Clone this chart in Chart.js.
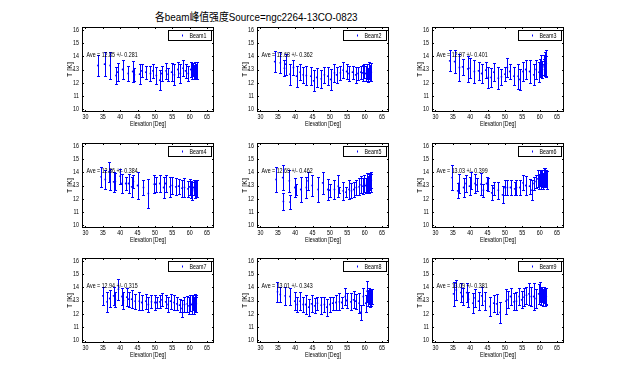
<!DOCTYPE html>
<html>
<head>
<meta charset="utf-8">
<script src="https://cdn.jsdelivr.net/npm/chart.js@4.4.1/dist/chart.umd.min.js"></script>
<style>
  html, body { margin: 0; padding: 0; background: #fff; }
  #fig { position: relative; width: 624px; height: 388px; overflow: hidden; background: #fff; }
  #fig canvas { position: absolute; }
  #title {
    position: absolute; left: 155px; top: 11px;
    font: 11px 'Liberation Sans', 'Noto Sans CJK SC', sans-serif;
    line-height: 12px; white-space: nowrap; color: #000;
    transform-origin: 0 0;
  }
</style>
</head>
<body>
<div id="fig">
  <div id="title">各beam峰值强度Source=ngc2264-13CO-0823</div>
</div>
<script>
// 각 beam 데이터 (elevation, T, 오차)
const elev1 = [33.6, 35.5, 37.1, 38.8, 39.3, 40.7, 42.3, 43.6, 44.1, 45.6, 46.2, 47.4, 48.7, 49.4, 50.4, 51.4, 52.0, 53.2, 53.8, 54.8, 55.6, 56.6, 57.3, 58.1, 58.8, 59.6, 60.3, 60.7, 61.0, 61.3, 61.5, 61.8, 62.0];
const t1 = [13.3, 13.4, 13.3, 12.55, 12.8, 13.0, 12.7, 12.85, 12.6, 12.65, 12.9, 12.8, 12.7, 12.9, 12.55, 12.2, 12.7, 12.9, 12.65, 12.8, 12.6, 13.0, 12.7, 13.1, 12.9, 12.7, 13.0, 12.85, 13.0, 12.8, 13.0, 12.9, 12.95];
const err1 = [0.8, 0.9, 1.0, 0.65, 0.7, 0.7, 0.6, 0.8, 0.5, 0.75, 0.5, 0.5, 0.6, 0.55, 0.65, 0.75, 0.55, 0.6, 0.5, 0.7, 0.8, 0.6, 0.7, 0.6, 0.55, 0.6, 0.55, 0.6, 0.5, 0.55, 0.6, 0.55, 0.65];

const elev2 = [34.1, 35.7, 36.9, 37.3, 38.5, 39.5, 40.4, 41.4, 42.3, 43.2, 44.5, 45.3, 46.2, 47.5, 48.4, 49.4, 50.2, 51.3, 51.9, 53.0, 53.8, 54.8, 55.5, 56.5, 57.4, 58.1, 58.9, 59.4, 59.9, 60.3, 60.7, 61.0, 61.3, 61.6, 61.9];
const t2 = [13.6, 13.5, 13.1, 13.4, 12.65, 13.15, 12.5, 12.8, 12.6, 12.55, 12.5, 12.15, 12.4, 12.3, 12.6, 12.5, 12.25, 12.75, 12.6, 12.75, 12.95, 12.85, 12.7, 12.8, 12.6, 12.7, 12.8, 12.75, 12.9, 12.7, 12.85, 12.6, 12.9, 12.75, 12.8];
const err2 = [0.8, 0.8, 0.6, 0.8, 0.8, 0.55, 0.8, 0.6, 0.6, 0.75, 0.7, 0.8, 0.7, 0.7, 0.6, 0.7, 0.8, 0.7, 0.6, 0.55, 0.6, 0.6, 0.6, 0.5, 0.6, 0.5, 0.5, 0.6, 0.55, 0.6, 0.6, 0.55, 0.65, 0.6, 0.7];

const elev3 = [34.1, 35.5, 36.9, 37.8, 39.3, 40.0, 41.2, 42.4, 43.3, 44.5, 45.2, 46.0, 46.8, 48.1, 49.0, 50.0, 50.7, 51.4, 52.6, 53.8, 54.3, 55.2, 56.0, 57.1, 58.3, 59.0, 59.8, 60.2, 60.5, 60.8, 61.1, 61.3, 61.5, 61.7, 61.9];
const t3 = [13.65, 13.6, 13.15, 13.2, 13.05, 13.1, 12.85, 12.9, 12.7, 12.95, 12.4, 12.4, 12.8, 12.35, 12.45, 12.65, 13.15, 12.85, 12.5, 12.5, 12.25, 12.85, 13.0, 12.85, 12.6, 13.0, 12.8, 13.1, 13.3, 13.0, 13.35, 13.2, 13.4, 13.25, 13.45];
const err3 = [0.8, 0.9, 1.05, 0.6, 1.0, 0.75, 0.85, 0.7, 0.75, 0.6, 0.8, 0.7, 0.7, 0.85, 0.6, 0.55, 0.7, 0.6, 0.7, 0.95, 0.8, 0.75, 0.7, 0.85, 0.8, 0.7, 0.75, 0.7, 0.8, 0.65, 0.75, 0.6, 0.9, 0.75, 1.0];

const elev4 = [34.5, 35.7, 36.8, 37.1, 38.1, 38.6, 40.0, 40.5, 41.6, 42.4, 43.3, 43.8, 45.0, 46.7, 48.1, 49.8, 50.2, 51.4, 52.5, 53.1, 54.3, 55.0, 56.0, 56.8, 57.8, 58.5, 59.5, 60.0, 60.4, 60.8, 61.1, 61.4, 61.7, 62.0];
const t4 = [13.65, 13.45, 14.05, 13.45, 13.28, 13.3, 13.7, 13.15, 13.15, 13.15, 12.9, 13.3, 13.0, 12.85, 12.4, 13.1, 13.1, 13.15, 12.85, 13.15, 12.9, 13.0, 12.9, 12.95, 12.8, 12.85, 12.75, 12.9, 12.7, 12.6, 12.85, 12.7, 12.8, 12.75];
const err4 = [0.75, 0.7, 0.75, 0.8, 0.76, 0.65, 0.57, 0.75, 0.5, 0.75, 0.75, 0.5, 1.0, 0.57, 1.1, 0.7, 0.57, 0.63, 0.8, 0.63, 0.75, 0.63, 0.63, 0.57, 0.63, 0.7, 0.6, 0.6, 0.65, 0.7, 0.6, 0.65, 0.6, 0.65];

const elev5 = [34.5, 36.4, 36.6, 38.3, 38.5, 39.9, 40.2, 41.6, 43.2, 43.7, 44.9, 46.6, 47.9, 49.4, 49.9, 51.3, 52.4, 52.7, 53.8, 54.6, 55.5, 56.2, 56.9, 57.6, 58.4, 59.0, 59.5, 59.9, 60.3, 60.6, 60.9, 61.1, 61.3, 61.5, 61.7, 61.9];
const t5 = [13.45, 13.6, 11.8, 13.35, 11.75, 12.85, 12.7, 12.7, 12.85, 13.35, 13.0, 12.7, 13.2, 12.7, 12.65, 12.7, 12.95, 12.65, 12.6, 12.5, 12.7, 12.6, 12.7, 12.85, 12.9, 13.05, 12.95, 13.15, 13.0, 13.25, 13.1, 13.3, 13.15, 13.35, 13.2, 13.4];
const err5 = [0.95, 0.95, 0.63, 0.82, 0.5, 0.7, 0.45, 0.95, 0.82, 0.7, 0.82, 0.95, 0.82, 0.82, 0.5, 0.7, 0.82, 0.25, 0.7, 0.38, 0.7, 0.57, 0.57, 0.57, 0.63, 0.63, 0.6, 0.65, 0.6, 0.7, 0.6, 0.65, 0.7, 0.6, 0.7, 0.6];

const elev6 = [34.8, 36.4, 36.7, 38.1, 38.8, 39.8, 40.2, 41.4, 41.9, 43.1, 43.8, 44.7, 45.2, 46.2, 46.8, 48.1, 49.3, 50.0, 50.7, 51.6, 52.8, 53.3, 54.3, 55.2, 56.0, 57.1, 57.8, 58.4, 59.0, 59.5, 59.8, 60.1, 60.4, 60.7, 61.0, 61.2, 61.4, 61.6, 61.8, 62.0];
const t6 = [13.6, 12.6, 13.15, 12.85, 13.15, 12.95, 13.4, 13.15, 13.05, 13.1, 12.65, 13.15, 13.05, 12.45, 12.8, 12.65, 12.3, 12.85, 12.85, 12.85, 12.75, 12.85, 12.85, 13.2, 13.0, 12.95, 12.65, 13.15, 13.3, 13.5, 13.3, 13.6, 13.4, 13.55, 13.35, 13.65, 13.45, 13.6, 13.5, 13.4];
const err6 = [0.95, 0.57, 0.75, 0.7, 0.63, 0.7, 0.63, 0.75, 0.5, 0.82, 0.5, 0.5, 0.5, 0.57, 0.5, 0.63, 0.63, 0.57, 0.57, 0.57, 0.5, 0.57, 0.57, 0.57, 0.7, 0.57, 0.75, 0.5, 0.5, 0.65, 0.55, 0.6, 0.7, 0.65, 0.6, 0.7, 0.6, 0.7, 0.65, 0.7];

const elev7 = [35.0, 36.2, 37.0, 38.1, 38.6, 39.5, 40.5, 40.9, 41.9, 42.4, 43.3, 44.3, 45.5, 46.2, 47.4, 48.1, 49.0, 50.0, 50.5, 51.4, 52.0, 53.1, 53.8, 54.5, 55.5, 56.3, 57.1, 57.8, 58.5, 59.3, 59.8, 60.2, 60.6, 60.9, 61.2, 61.4, 61.7, 61.9];
const t7 = [13.35, 12.9, 13.15, 13.35, 13.1, 13.85, 13.3, 13.0, 13.25, 13.1, 13.1, 12.95, 12.95, 12.85, 12.95, 12.7, 12.9, 12.85, 12.85, 12.9, 13.05, 12.9, 12.7, 12.95, 12.85, 12.75, 12.65, 12.4, 12.7, 12.75, 12.6, 12.8, 12.7, 12.85, 12.65, 12.8, 12.7, 12.75];
const err7 = [0.7, 0.75, 0.63, 0.7, 0.57, 0.8, 0.63, 0.63, 0.7, 0.57, 0.7, 0.57, 0.7, 0.57, 0.57, 0.57, 0.5, 0.57, 0.45, 0.5, 0.5, 0.5, 0.57, 0.57, 0.57, 0.5, 0.5, 0.63, 0.57, 0.6, 0.65, 0.6, 0.7, 0.6, 0.65, 0.7, 0.6, 0.65];

const elev8 = [34.9, 35.7, 37.1, 38.5, 39.9, 40.6, 41.4, 42.3, 43.0, 43.9, 44.7, 45.6, 46.4, 47.5, 48.4, 49.1, 50.0, 50.8, 51.7, 52.7, 53.4, 54.4, 54.8, 56.0, 56.8, 57.4, 58.4, 58.8, 59.6, 60.3, 60.7, 61.0, 61.3, 61.5, 61.7, 61.9, 62.1];
const t8 = [13.65, 13.45, 13.35, 13.3, 12.95, 12.7, 12.95, 12.7, 12.7, 12.5, 12.75, 12.6, 12.8, 12.65, 12.7, 12.5, 12.7, 12.8, 12.85, 12.9, 12.85, 13.3, 13.0, 12.9, 13.05, 12.95, 12.8, 12.1, 13.3, 12.8, 13.7, 13.2, 13.35, 13.15, 13.3, 13.2, 13.3];
const err8 = [0.75, 0.57, 0.7, 0.63, 0.7, 0.57, 0.7, 0.57, 0.7, 0.63, 0.63, 0.57, 0.5, 0.63, 0.57, 0.63, 0.57, 0.5, 0.57, 0.63, 0.45, 0.63, 0.57, 0.63, 0.63, 0.57, 0.75, 0.57, 0.63, 0.63, 0.8, 0.6, 0.6, 0.65, 0.6, 0.65, 0.55];

const elev9 = [35.2, 36.0, 37.3, 37.8, 39.0, 39.5, 40.8, 41.4, 42.4, 43.3, 44.3, 45.7, 46.8, 47.6, 48.6, 50.3, 50.9, 51.6, 52.6, 53.3, 54.1, 54.8, 55.5, 56.2, 56.9, 57.6, 58.3, 59.0, 59.7, 60.2, 60.5, 60.8, 61.0, 61.3, 61.5, 61.7, 61.9];
const t9 = [13.5, 13.8, 13.6, 13.3, 13.6, 13.1, 12.8, 13.2, 12.95, 13.35, 12.95, 12.55, 12.8, 12.75, 12.1, 12.95, 13.05, 13.3, 12.9, 12.95, 13.3, 13.05, 13.25, 13.4, 13.5, 13.3, 13.3, 13.15, 13.5, 13.65, 13.3, 13.45, 13.2, 13.4, 13.25, 13.35, 13.3];
const err9 = [0.9, 0.75, 0.75, 0.63, 0.7, 0.57, 0.75, 0.7, 0.7, 0.7, 0.7, 0.75, 0.63, 0.75, 0.82, 0.95, 0.63, 0.63, 0.63, 0.7, 0.63, 0.63, 0.7, 0.63, 0.82, 0.75, 1.0, 0.75, 0.75, 0.75, 0.65, 0.6, 0.65, 0.6, 0.7, 0.6, 0.65];

const beamNames = ['Beam1', 'Beam2', 'Beam3', 'Beam4', 'Beam5', 'Beam6', 'Beam7', 'Beam8', 'Beam9'];
const aveLabels = [
    'Ave = 12.85 +/- 0.281', 'Ave = 12.68 +/- 0.362', 'Ave = 12.97 +/- 0.401',
    'Ave = 12.86 +/- 0.384', 'Ave = 12.69 +/- 0.462', 'Ave = 13.03 +/- 0.399',
    'Ave = 12.94 +/- 0.315', 'Ave = 13.01 +/- 0.343', 'Ave = 13.09 +/- 0.381'
];
const xTicks = [30, 35, 40, 45, 50, 55, 60, 65];
const yTicks = [10, 11, 12, 13, 14, 15, 16];

const elevations = [elev1, elev2, elev3, elev4, elev5, elev6, elev7, elev8, elev9];
const temps = [t1, t2, t3, t4, t5, t6, t7, t8, t9];
const errors = [err1, err2, err3, err4, err5, err6, err7, err8, err9];

// 레이아웃 (subplot 축 영역 위치)
const colLeft = [82, 257, 432];
const rowTop = [27, 143, 258];
const AX_W = 132, AX_H = 85;
const PAD_L = 18, PAD_T = 8, PAD_R = 4, PAD_B = 20;

const BLUE = '#0000ff';
const FAMILY = "'Liberation Sans', Arial, sans-serif";
const TEXT_FONT = '7px ' + FAMILY;
const SQUEEZE = 0.76; // 원본 글자가 가로로 눌려 있음

// 오차 막대
const errorBars = {
    id: 'errorBars',
    afterDatasetsDraw(chart) {
        const { ctx, scales: { x, y } } = chart;
        ctx.save();
        ctx.strokeStyle = BLUE;
        ctx.lineWidth = 1;
        chart.data.datasets.forEach(ds => {
            ds.data.forEach((p, i) => {
                const e = ds.errors[i];
                const px = Math.round(x.getPixelForValue(p.x)) + 0.5;
                const y1 = Math.round(y.getPixelForValue(p.y + e)) + 0.5;
                const y2 = Math.round(y.getPixelForValue(p.y - e)) + 0.5;
                ctx.beginPath();
                ctx.moveTo(px, y1); ctx.lineTo(px, y2);
                ctx.moveTo(px - 1.5, y1); ctx.lineTo(px + 1.5, y1);
                ctx.moveTo(px - 1.5, y2); ctx.lineTo(px + 1.5, y2);
                ctx.stroke();
            });
        });
        ctx.restore();
    }
};

// 축 테두리 + 안쪽 눈금
const axesBox = {
    id: 'axesBox',
    afterDraw(chart) {
        const { ctx, chartArea: a, scales: { x, y } } = chart;
        ctx.save();
        ctx.strokeStyle = '#000';
        ctx.lineWidth = 1;
        ctx.strokeRect(a.left + 0.5, a.top + 0.5, a.width - 1, a.height - 1);
        ctx.beginPath();
        x.ticks.forEach(t => {
            const px = Math.round(x.getPixelForValue(t.value)) + 0.5;
            ctx.moveTo(px, a.bottom); ctx.lineTo(px, a.bottom - 2);
            ctx.moveTo(px, a.top); ctx.lineTo(px, a.top + 2);
        });
        y.ticks.forEach(t => {
            const py = Math.round(y.getPixelForValue(t.value)) + 0.5;
            ctx.moveTo(a.left, py); ctx.lineTo(a.left + 2, py);
            ctx.moveTo(a.right, py); ctx.lineTo(a.right - 2, py);
        });
        ctx.stroke();
        ctx.restore();
    }
};

// 범례 상자
const beamLegend = {
    id: 'beamLegend',
    afterDraw(chart) {
        const { ctx, chartArea: a } = chart;
        const ds = chart.data.datasets[0];
        const w = 43, h = 10;
        const bx = Math.round(a.right - 3 - w) + 0.5;
        const by = Math.round(a.top + 3) + 0.5;
        ctx.save();
        ctx.fillStyle = '#fff';
        ctx.fillRect(bx, by, w, h);
        ctx.strokeStyle = '#000';
        ctx.lineWidth = 1;
        ctx.strokeRect(bx, by, w, h);
        ctx.fillStyle = BLUE;
        ctx.fillRect(bx + 13.5, by + 4, 1, 2);
        ctx.fillStyle = '#000';
        ctx.font = TEXT_FONT;
        ctx.textBaseline = 'middle';
        ctx.fillText(ds.label, bx + 21, by + h / 2 + 0.5);
        ctx.restore();
    }
};

// 평균값 텍스트
const aveNote = {
    id: 'aveNote',
    afterDraw(chart, args, opts) {
        const { ctx, scales: { x, y } } = chart;
        ctx.save();
        ctx.fillStyle = '#000';
        ctx.font = TEXT_FONT;
        ctx.textBaseline = 'middle';
        ctx.fillText(opts.text, x.getPixelForValue(opts.x), y.getPixelForValue(opts.y));
        ctx.restore();
    }
};

const tickFont = { family: FAMILY, size: 7 };
const fig = document.getElementById('fig');

beamNames.forEach((name, i) => {
    const col = i % 3, row = Math.floor(i / 3);
    const canvas = document.createElement('canvas');
    canvas.width = AX_W + PAD_L + PAD_R;
    canvas.height = AX_H + PAD_T + PAD_B;
    canvas.style.left = (colLeft[col] - PAD_L) + 'px';
    canvas.style.top = (rowTop[row] - PAD_T) + 'px';
    fig.appendChild(canvas);

    // 가로 글자만 좁게 그림 (회전된 y축 제목은 그대로)
    const ctx = canvas.getContext('2d');
    const rawFill = ctx.fillText.bind(ctx);
    ctx.fillText = (s, x, y, mw) => {
        if (Math.abs(ctx.getTransform().b) > 0.01) {
            return mw === undefined ? rawFill(s, x, y) : rawFill(s, x, y, mw);
        }
        const w = ctx.measureText(s).width * SQUEEZE;
        rawFill(s, x, y, mw === undefined ? w : Math.min(mw, w));
    };

    new Chart(ctx, {
        type: 'scatter',
        data: {
            datasets: [{
                label: name,
                data: elevations[i].map((v, k) => ({ x: v, y: temps[i][k] })),
                errors: errors[i],
                pointRadius: 0.9,
                pointBorderWidth: 0,
                pointBackgroundColor: BLUE,
                borderColor: BLUE,
                showLine: false
            }]
        },
        options: {
            responsive: false,
            animation: false,
            events: [],
            layout: { padding: { left: 0, top: PAD_T, right: PAD_R, bottom: 0 } },
            plugins: {
                legend: { display: false },
                tooltip: { enabled: false },
                aveNote: { text: aveLabels[i], x: 30.3, y: 14.1 }
            },
            scales: {
                x: {
                    type: 'linear',
                    min: 29, max: 67,
                    afterBuildTicks: s => { s.ticks = xTicks.map(v => ({ value: v })); },
                    afterFit: s => { s.height = PAD_B; },
                    grid: { display: false, drawTicks: false },
                    border: { display: false },
                    ticks: { font: tickFont, color: '#000', padding: 1, maxRotation: 0, autoSkip: false },
                    title: { display: true, text: 'Elevation [Deg]', font: tickFont, color: '#000', padding: { top: 0, bottom: 4 } }
                },
                y: {
                    type: 'linear',
                    min: 9.8, max: 16.2,
                    afterBuildTicks: s => { s.ticks = yTicks.map(v => ({ value: v })); },
                    afterFit: s => { s.width = PAD_L; },
                    grid: { display: false, drawTicks: false },
                    border: { display: false },
                    ticks: { font: tickFont, color: '#000', padding: 3, autoSkip: false },
                    title: { display: true, text: 'T [K]', font: tickFont, color: '#000', padding: { top: 2, bottom: 0 } }
                }
            }
        },
        plugins: [errorBars, axesBox, beamLegend, aveNote]
    });
});

// 제목 폭을 원본에 맞춤
const title = document.getElementById('title');
title.style.transform = 'scaleX(' + (203 / title.offsetWidth) + ')';
</script>
</body>
</html>
